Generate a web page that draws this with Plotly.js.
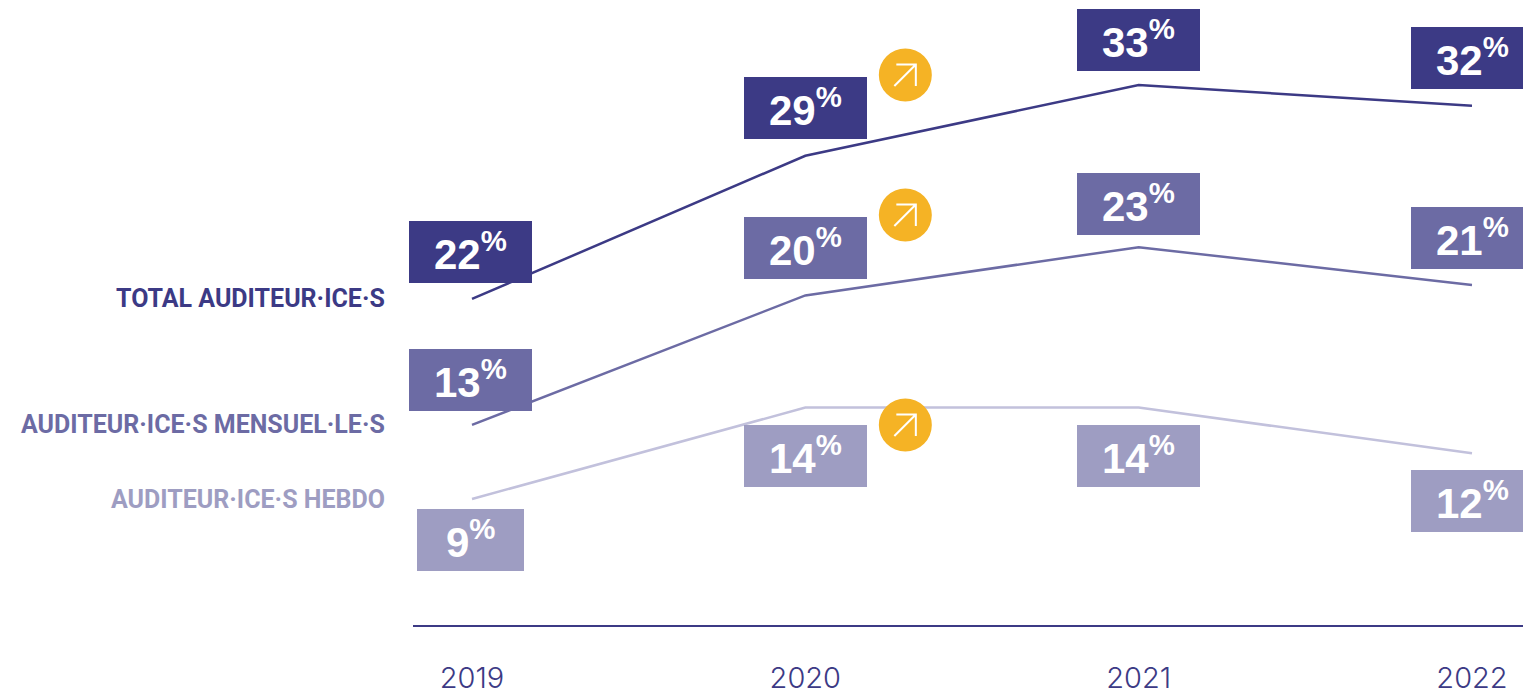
<!DOCTYPE html>
<html>
<head>
<meta charset="utf-8">
<script src="https://cdn.plot.ly/plotly-3.0.1.min.js"></script>
<style>html,body{margin:0;padding:0;background:#fff;overflow:hidden}#chart{width:1523px;height:695px}</style>
</head>
<body>
<div id="chart"></div>
<script>
// Categories
const years = [2019, 2020, 2021, 2022];
const seriesNames = ["TOTAL AUDITEUR·ICE·S", "AUDITEUR·ICE·S MENSUEL·LE·S", "AUDITEUR·ICE·S HEBDO"];
// Printed values
const totalLabels = [22, 29, 33, 32];
const mensuelLabels = [13, 20, 23, 21];
const hebdoLabels = [9, 14, 14, 12];
// Line heights as drawn in the picture (the source lines are not strictly to scale)
const totalDrawn = [20.6, 28.9, 33.0, 31.8];
const mensuelDrawn = [13.3, 20.8, 23.6, 21.4];
const hebdoDrawn = [9.0, 14.3, 14.3, 11.65];
const arrowYear = 2020.3;
const arrowLevels = [33.58, 25.46, 13.29];

const W = 1523, H = 695, L = 413, B = 70;
const X0 = 472, PXX = 333.33, Y9 = 499, PXY = 17.25;
const colors = ["#3c3a85", "#6c6ba4", "#9e9dc2"];
const lineColors = ["#3c3a85", "#6c6ba4", "#c2c1dc"];
const pxX = v => X0 + (v - years[0]) * PXX;
const pxY = v => Y9 - (v - 9) * PXY;
const paperX = v => (pxX(v) - L) / (W - L);

const drawn = [totalDrawn, mensuelDrawn, hebdoDrawn];
const labels = [totalLabels, mensuelLabels, hebdoLabels];
// Label-box centres in page pixels
const boxCenters = [
  [[470.5,252],[805.5,108],[1138.5,40],[1472.5,58]],
  [[470.5,380],[805.5,248],[1138.5,204],[1472.5,238]],
  [[470.5,540],[805.5,456],[1138.5,456],[1472.5,501]]
];

const traces = drawn.map((d,i)=>({
  x: years, y: d, type:"scatter", mode:"lines", name: seriesNames[i],
  line:{color:lineColors[i], width:2.5, shape:"linear"}, hoverinfo:"skip", showlegend:false
}));

const annotations = [];
const shapes = [];
drawn.forEach((d,i)=>{
  d.forEach((v,j)=>{
    const w = labels[i][j] < 10 ? 107 : 123;
    const dx = boxCenters[i][j][0]-pxX(years[j]);
    const dy = pxY(v)-boxCenters[i][j][1];
    shapes.push({type:"rect", layer:"above", xref:"paper", yref:"y", xsizemode:"pixel", ysizemode:"pixel",
      xanchor:paperX(years[j]), yanchor:v, x0:dx-w/2, x1:dx+w/2, y0:dy-31, y1:dy+31,
      fillcolor:colors[i], line:{width:0}});
    annotations.push({
      x: years[j], y: v, xref:"x", yref:"y",
      xshift: dx, yshift: dy+1.5,
      xanchor:"center", yanchor:"middle",
      showarrow:false, align:"center",
      text: labels[i][j]+"<sup>%</sup>",
      font:{family:"Liberation Sans", size:42, color:"#ffffff", weight:700}
    });
  });
  annotations.push({
    x: years[0], y: d[0], xref:"x", yref:"y", xshift:387-X0, yshift:0,
    xanchor:"right", yanchor:"middle", showarrow:false, align:"right",
    text: seriesNames[i],
    font:{family:"Roboto", size:25, color:colors[i], weight:700}
  });
});

arrowLevels.forEach(v=>{
  shapes.push({type:"circle", layer:"above", xref:"x", yref:"y", xsizemode:"pixel", ysizemode:"pixel",
    xanchor:arrowYear, yanchor:v, x0:-26.5, x1:26.5, y0:-26.5, y1:26.5,
    fillcolor:"#f5b325", line:{width:0}});
  shapes.push({type:"path", layer:"above", xref:"x", yref:"y", xsizemode:"pixel", ysizemode:"pixel",
    xanchor:arrowYear, yanchor:v,
    path:"M -11 -11 L 10.5 10.5 M -9 10.5 L 10.5 10.5 L 10.5 -11",
    line:{color:"#ffffff", width:2}});
});

const layout = {
  width:W, height:H, margin:{l:L, r:0, t:0, b:B, pad:0},
  paper_bgcolor:"#ffffff", plot_bgcolor:"#ffffff", showlegend:false,
  xaxis:{
    range:[years[0]-(X0-L)/PXX, years[0]+(W-X0)/PXX], tickmode:"array", tickvals:years, ticktext:years.map(String),
    showgrid:false, zeroline:false, showline:true, linecolor:"#3c3a85", linewidth:1.5,
    ticks:"outside", ticklen:27, tickcolor:"rgba(0,0,0,0)", tickwidth:0,
    tickfont:{family:"Inter", size:29, color:"#3c3a85", weight:300}
  },
  yaxis:{
    range:[9-(H-B-Y9)/PXY, 9+Y9/PXY], visible:false, showgrid:false, zeroline:false
  },
  annotations, shapes
};
Plotly.newPlot("chart", traces, layout, {displayModeBar:false, staticPlot:true});
</script>
</body>
</html>
